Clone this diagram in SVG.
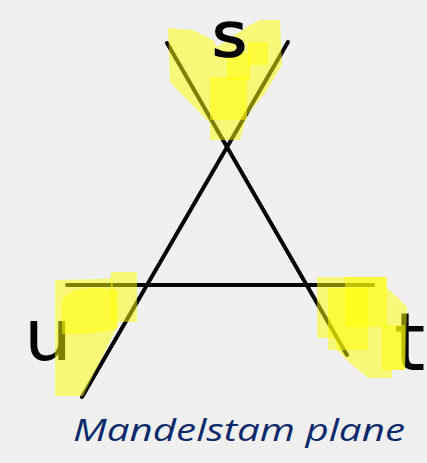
<svg xmlns="http://www.w3.org/2000/svg" width="427" height="463" viewBox="0 0 427 463">
<style>
.ln{stroke:#000;stroke-width:4;stroke-linecap:round;fill:none}
.hl{fill:#ffff00;fill-opacity:0.5}
.hw{font-family:"DejaVu Sans",sans-serif;fill:#000}
.cap{font-family:"Open Sans",sans-serif;font-style:italic;fill:#0b2a6b}
</style>
<rect width="427" height="463" fill="#f0f0f0"/>
<g id="connectors">
<line class="ln" x1="167" y1="43" x2="347" y2="355"/>
<line class="ln" x1="288" y1="42" x2="82" y2="397"/>
<line class="ln" x1="67" y1="285" x2="373" y2="285"/>
</g>
<g id="u-label"><text class="hw" x="24" y="360" font-size="72" textLength="48" lengthAdjust="spacingAndGlyphs">u</text></g>
<g id="t-label"><text class="hw" x="394" y="370" font-size="80">t</text></g>
<g id="s-region">
<path class="hl" d="M168,28 L193,30 L213,40 L217,47 L250,25 L260,20 L280,20 L282,65 L265,93 L247,115 L240,140 L210,140 L210,123 L197,110 L170,82 Z"/>
<rect class="hl" x="210" y="77" width="37" height="43"/>
<rect class="hl" x="248" y="42" width="20" height="23"/>
<rect class="hl" x="227" y="53" width="23" height="27"/>
</g>
<g id="u-region">
<path class="hl" d="M55,280 L100,279 L112,278 L117,327 L83,396 L55,396 Z"/>
<rect class="hl" x="111" y="272" width="26" height="50"/>
<path class="hl" d="M62,300 Q70,287 100,288 L118,290 L118,328 Q100,335 62,334 Z"/>
</g>
<g id="t-region">
<path class="hl" d="M317,277 L385,277 L387,288 L397,297 L407,307 L405,370 L392,370 L392,378 L368,378 L350,363 L337,350 L335,338 L317,338 Z"/>
<rect class="hl" x="345" y="277" width="42" height="50"/>
<rect class="hl" x="328" y="288" width="40" height="62"/>
<rect class="hl" x="382" y="325" width="23" height="45"/>
</g>
<g id="s-label"><text class="hw" x="212" y="56" font-size="60" textLength="35" lengthAdjust="spacingAndGlyphs" stroke="#000" stroke-width="1.5">s</text></g>
<g id="caption"><text class="cap" x="73" y="441" font-size="31" textLength="332" lengthAdjust="spacingAndGlyphs">Mandelstam plane</text></g>
</svg>
